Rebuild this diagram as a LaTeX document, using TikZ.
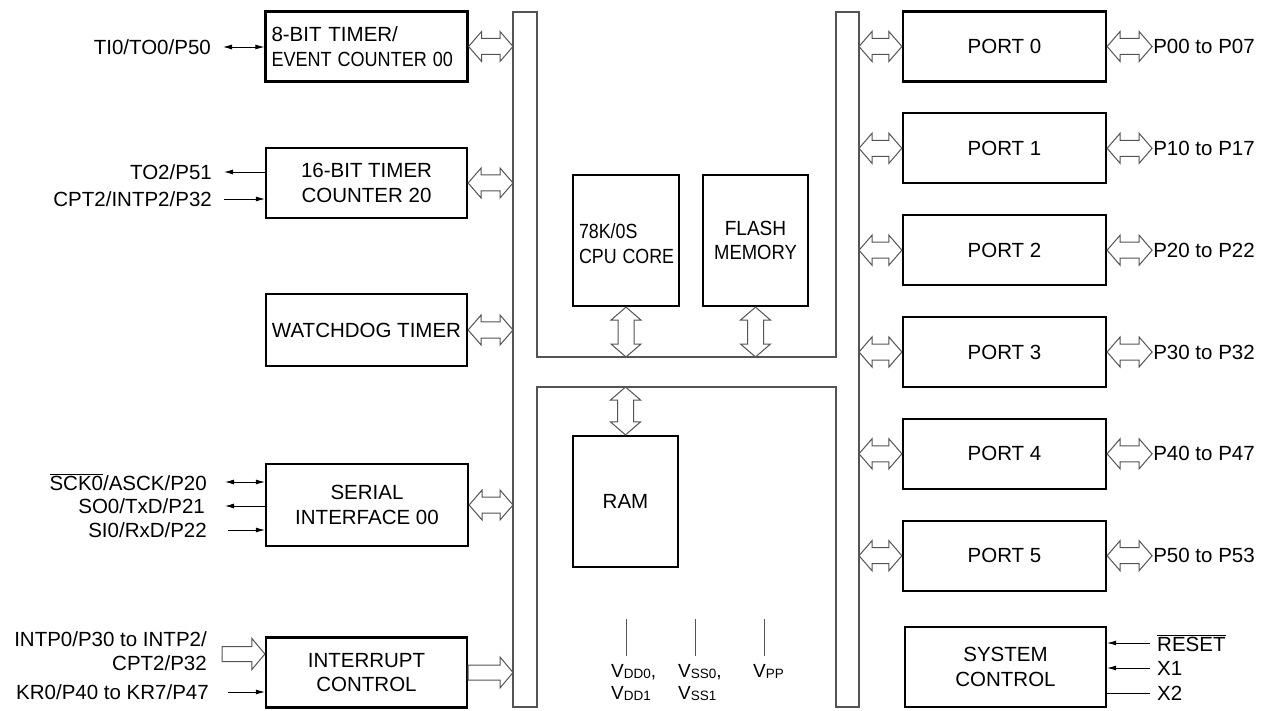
\documentclass[tikz,border=0pt]{standalone}
\usepackage{graphicx}
\usepackage{fontspec}
\setmainfont{Liberation Sans}
\usetikzlibrary{calc,arrows.meta}
\definecolor{busgray}{gray}{0.33}
\newcommand\hdarr[2]{\draw[barrow] (#1) -- ++(13,-15) -- ++(0,7) -- ($(#2)+(-13,-8)$) -- ++(0,-7) -- (#2) -- ++(-13,15) -- ++(0,-7) -- ($(#1)+(13,8)$) -- ++(0,7) -- cycle;}
\newcommand\vdarr[2]{\draw[barrow] (#1) -- ++(-15,13) -- ++(7,0) -- ($(#2)+(-8,-13)$) -- ++(-7,0) -- (#2) -- ++(15,-13) -- ++(-7,0) -- ($(#1)+(8,13)$) -- ++(7,0) -- cycle;}
\newcommand\sarr[2]{\draw[barrow] ($(#1)+(0,-7.5)$) -- ($(#2)+(-13,-7.5)$) -- ($(#2)+(-13,-15.5)$) -- (#2) -- ($(#2)+(-13,15.5)$) -- ($(#2)+(-13,7.5)$) -- ($(#1)+(0,7.5)$) -- cycle;}
\newcommand\sbs[1]{\raisebox{-1.5pt}{\fontsize{13.5}{13.5}\selectfont #1}}
\newcommand\hs[2]{\scalebox{#1}[1]{#2}}
\begin{document}
\begin{tikzpicture}[x=1pt,y=-1pt,
  blk/.style={draw=black, line width=2.2pt, inner sep=0pt, align=center, font=\fontsize{20.5}{24.5}\selectfont},
  lbox/.style={blk, minimum width=201pt, minimum height=70pt},
  pbox/.style={blk, minimum width=203pt, minimum height=70pt},
  cbox/.style={blk, minimum width=105pt, minimum height=131pt},
  lbl/.style={inner sep=0pt, font=\fontsize{20.5}{24}\selectfont},
  barrow/.style={draw=busgray, line width=1pt, fill=white},
  bus/.style={draw=busgray, line width=1.2pt},
  sig/.style={line width=0.9pt, black},
  vline/.style={draw=busgray, line width=1pt},
  >={Latex[length=9pt,width=5pt]}
]
\useasboundingbox (0,0) rectangle (1269,711);

% bus outline
\coordinate (bL) at (513,0);
\coordinate (bLi) at (537,0);
\coordinate (bRi) at (836,0);
\coordinate (bR) at (859,0);
\coordinate (upB) at (0,357);
\coordinate (loT) at (0,387);
\draw[bus] (513,12) -- (537,12) -- (537,357) -- (836,357) -- (836,12) -- (859,12)
  -- (859,707) -- (836,707) -- (836,387) -- (537,387) -- (537,707) -- (513,707) -- cycle;

% left blocks
\node[lbox, align=left, text width=190pt, inner xsep=6pt] (t8) at (366.5,46.5) {8-BIT TIMER/\\\hs{0.88}{EVENT COUNTER 00}};
\node[lbox] (t16) at (366.5,183) {16-BIT TIMER\\COUNTER 20};
\node[lbox, minimum height=72pt] (wdt) at (366.5,330) {WATCHDOG TIMER};
\node[lbox, minimum width=202pt, minimum height=82pt] (ser) at (367,505) {SERIAL\\INTERFACE 00};
\node[lbox] (intc) at (366.5,672.5) {INTERRUPT\\CONTROL};

% centre blocks
\node[cbox, minimum width=106pt, align=left, text width=94pt, inner xsep=6pt] (cpu) at (626,240.5) {\rule{0pt}{21pt}\hs{0.87}{78K/0S}\\\hs{0.87}{CPU CORE}};
\node[cbox] (flash) at (755.5,240.5) {\hs{0.93}{FLASH}\\\hs{0.9}{MEMORY}};
\node[cbox] (ram) at (625.5,501.5) {RAM};

% ports
\foreach \i/\y in {0/46.5,1/148.3,2/250.2,3/352,4/453.8,5/555.7}{
  \node[pbox] (p\i) at (1004.5,\y) {PORT \i};
}
\node[pbox, minimum width=201pt, minimum height=80pt] (sys) at (1005.5,667) {SYSTEM\\CONTROL};

% bus arrows left
\hdarr{t8.east}{t8.east -| bL}
\hdarr{t16.east}{t16.east -| bL}
\hdarr{wdt.east}{wdt.east -| bL}
\hdarr{ser.east}{ser.east -| bL}
\sarr{intc.east}{intc.east -| bL}

% port arrows
\foreach \i/\a/\b in {0/P00/P07,1/P10/P17,2/P20/P22,3/P30/P32,4/P40/P47,5/P50/P53}{
  \hdarr{p\i.west -| bR}{p\i.west}
  \coordinate (pe\i) at ($(p\i.east)+(45,0)$);
  \hdarr{p\i.east}{pe\i}
  \node[lbl, anchor=west] (pl\i) at ($(pe\i)+(1,0)$) {\a{} to \b};
}

% centre vertical arrows
\vdarr{cpu.south}{cpu.south |- upB}
\vdarr{flash.south}{flash.south |- upB}
\vdarr{ram.north |- loT}{ram.north}

% left signals
\node[lbl, anchor=east] (ltio) at (211,47) {TI0/TO0/P50};
\coordinate (a1) at (223,47);
\draw[sig, <->] (a1) -- (a1 -| t8.west);

\node[lbl, anchor=east] (lto2) at (212,172) {TO2/P51};
\coordinate (a2) at (224,172);
\draw[sig, <-] (a2) -- (a2 -| t16.west);
\node[lbl, anchor=east] (lcpt) at (212,199) {CPT2/INTP2/P32};
\coordinate (a3) at (224,199);
\draw[sig, ->] (a3) -- (a3 -| t16.west);

\node[lbl, anchor=east] (lsck) at (207,482) {$\overline{\hbox{SCK0}}$/ASCK/P20};
\coordinate (a4) at (225,482);
\draw[sig, <->] (a4) -- (a4 -| ser.west);
\node[lbl, anchor=east] (lso) at (205,506) {SO0/TxD/P21};
\coordinate (a5) at (225,506);
\draw[sig, <-] (a5) -- (a5 -| ser.west);
\node[lbl, anchor=east] (lsi) at (207,530) {SI0/RxD/P22};
\coordinate (a6) at (228,530);
\draw[sig, ->] (a6) -- (a6 -| ser.west);

\node[lbl, anchor=east, align=right] (lintp) at (207,651) {INTP0/P30 to INTP2/\\CPT2/P32};
\coordinate (a7) at (222,654);
\sarr{a7}{a7 -| intc.west}
\node[lbl, anchor=east] (lkr) at (209,692) {KR0/P40 to KR7/P47};
\coordinate (a8) at (228,692);
\draw[sig, ->] (a8) -- (a8 -| intc.west);

% system control signals
\coordinate (r1) at (1150,643);
\coordinate (r2) at (1150,668);
\coordinate (r3) at (1150,693);
\draw[sig, ->] (r1) -- (r1 -| sys.east);
\draw[sig, ->] (r2) -- (r2 -| sys.east);
\draw[sig] (r3) -- (r3 -| sys.east);
\node[lbl, anchor=west] (lrst) at (1157,643) {$\overline{\hbox{RESET}}$};
\node[lbl, anchor=west] (lx1) at (1157,668) {X1};
\node[lbl, anchor=west] (lx2) at (1157,693) {X2};

% power pins
\coordinate (v1) at (626,619);
\coordinate (v2) at (695,619);
\coordinate (v3) at (764,619);
\draw[vline] (v1) -- ++(0,37);
\draw[vline] (v2) -- ++(0,37);
\draw[vline] (v3) -- ++(0,37);
\node[lbl, anchor=north west, align=left, font=\fontsize{19}{22}\selectfont] (lvdd) at (611,664) {V\sbs{DD0},\\V\sbs{DD1}};
\node[lbl, anchor=north west, align=left, font=\fontsize{19}{22}\selectfont] (lvss) at (678,664) {V\sbs{SS0},\\V\sbs{SS1}};
\node[lbl, anchor=north west, align=left, font=\fontsize{19}{22}\selectfont] (lvpp) at (753,664) {V\sbs{PP}};
\end{tikzpicture}
\end{document}
